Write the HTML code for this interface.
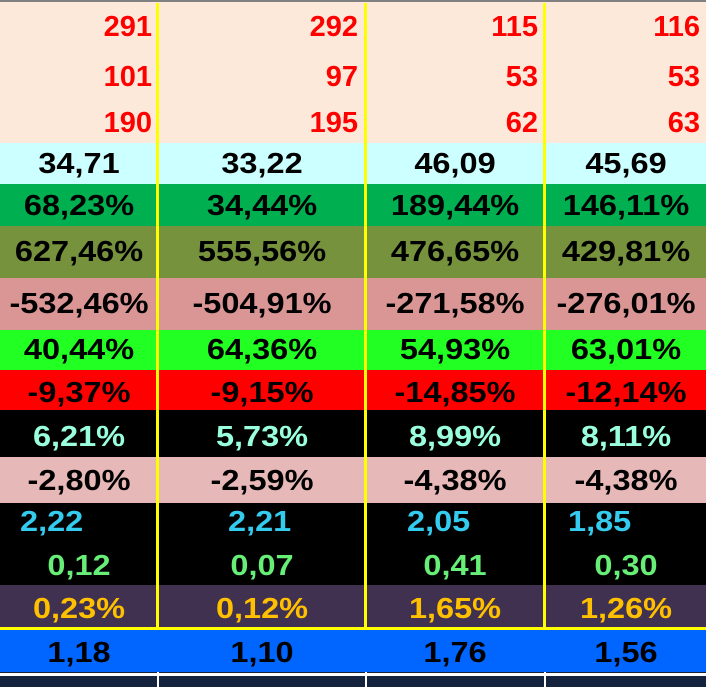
<!DOCTYPE html><html><head><style>
body{margin:0;width:706px;height:687px;overflow:hidden;background:#000;font-family:"Liberation Sans",sans-serif;font-weight:bold}
.r{position:absolute;left:0;width:706px}
.t{position:absolute;font-size:29px;line-height:29px;white-space:nowrap}
.c{transform:translateX(-50%) scaleX(1.12)}
.s{transform:scaleX(1.12);transform-origin:left}
.v{position:absolute;top:3px;width:3px;height:624px;background:#ffff00}
</style></head><body>
<div class="r" style="top:0;height:2px;background:#808080"></div>
<div class="r" style="top:2px;height:141px;background:#fde9d9"></div>
<div class="r" style="top:143px;height:41px;background:#ccffff"></div>
<div class="r" style="top:184px;height:42px;background:#00b050"></div>
<div class="r" style="top:226px;height:52px;background:#76923c"></div>
<div class="r" style="top:278px;height:52px;background:#da9694"></div>
<div class="r" style="top:330px;height:40px;background:#22ff22"></div>
<div class="r" style="top:370px;height:40px;background:#ff0000"></div>
<div class="r" style="top:410px;height:47px;background:#000"></div>
<div class="r" style="top:457px;height:46px;background:#e6b8b7"></div>
<div class="r" style="top:503px;height:82px;background:#000"></div>
<div class="r" style="top:585px;height:42px;background:#403151"></div>
<div class="r" style="top:627px;height:3px;background:#ffff00"></div>
<div class="r" style="top:630px;height:42px;background:#0066ff"></div>
<div class="r" style="top:672px;height:4px;background:#fff;border-top:1px solid #14243f;box-sizing:border-box"></div>
<div class="r" style="top:676px;height:11px;background:#14243f"></div>
<div style="position:absolute;top:672px;left:157px;width:2px;height:15px;background:#fff"></div>
<div style="position:absolute;top:672px;left:365px;width:2px;height:15px;background:#fff"></div>
<div style="position:absolute;top:672px;left:544px;width:2px;height:15px;background:#fff"></div>
<div class="v" style="left:156px"></div><div class="v" style="left:364px"></div><div class="v" style="left:543px"></div>

<div class="t" style="color:#f00;top:13px;right:554px">291</div>
<div class="t" style="color:#f00;top:13px;right:348px">292</div>
<div class="t" style="color:#f00;top:13px;right:168px">115</div>
<div class="t" style="color:#f00;top:13px;right:6px">116</div>
<div class="t" style="color:#f00;top:63px;right:554px">101</div>
<div class="t" style="color:#f00;top:63px;right:348px">97</div>
<div class="t" style="color:#f00;top:63px;right:168px">53</div>
<div class="t" style="color:#f00;top:63px;right:6px">53</div>
<div class="t" style="color:#f00;top:109px;right:554px">190</div>
<div class="t" style="color:#f00;top:109px;right:348px">195</div>
<div class="t" style="color:#f00;top:109px;right:168px">62</div>
<div class="t" style="color:#f00;top:109px;right:6px">63</div>

<div id="g"></div>
<script>
var cx=[79,262,455,626];
var rows=[
[150,"#000",["34,71","33,22","46,09","45,69"]],
[192,"#000",["68,23%","34,44%","189,44%","146,11%"]],
[238,"#000",["627,46%","555,56%","476,65%","429,81%"]],
[290,"#000",["-532,46%","-504,91%","-271,58%","-276,01%"]],
[336,"#000",["40,44%","64,36%","54,93%","63,01%"]],
[379,"#000",["-9,37%","-9,15%","-14,85%","-12,14%"]],
[423,"#99ffdd",["6,21%","5,73%","8,99%","8,11%"]],
[467,"#000",["-2,80%","-2,59%","-4,38%","-4,38%"]],
[552,"#66ee77",["0,12","0,07","0,41","0,30"]],
[595,"#ffc000",["0,23%","0,12%","1,65%","1,26%"]],
[639,"#000",["1,18","1,10","1,76","1,56"]]];
var h="";
rows.forEach(function(r){r[2].forEach(function(s,i){h+='<div class="t c" style="color:'+r[1]+';top:'+r[0]+'px;left:'+cx[i]+'px">'+s+'</div>';});});
var l=[20,228,407,568],v=["2,22","2,21","2,05","1,85"];
v.forEach(function(s,i){h+='<div class="t s" style="color:#33ccee;top:508px;left:'+l[i]+'px">'+s+'</div>';});
document.getElementById("g").innerHTML=h;
</script>
</body></html>
